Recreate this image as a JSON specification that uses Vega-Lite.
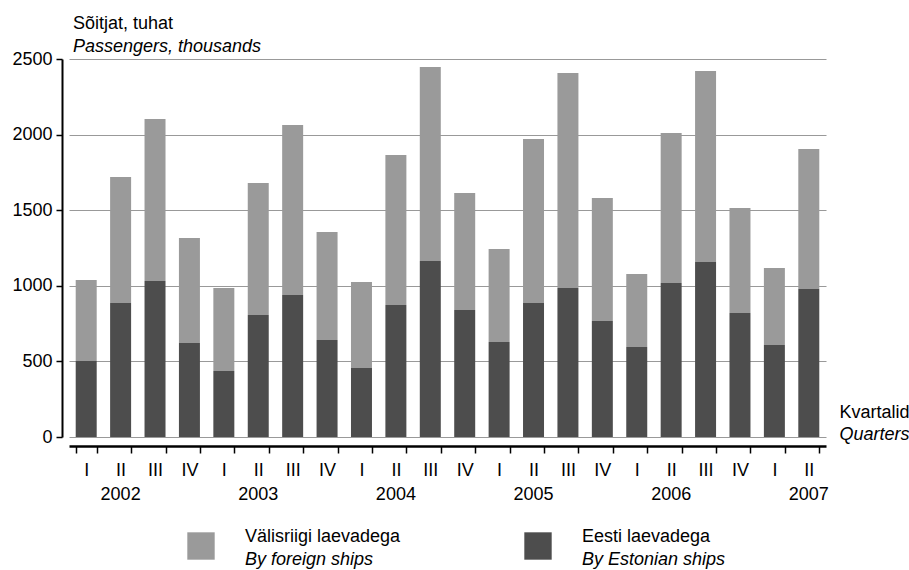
{
  "$schema": "https://vega.github.io/schema/vega-lite/v6.json",
  "padding": {"left": 11, "top": 15, "right": 0, "bottom": 0},
  "config": {
    "font": "Liberation Sans",
    "view": {"stroke": null},
    "axis": {"labelFont": "Liberation Sans", "labelFontSize": 18, "labelColor": "black", "titleFont": "Liberation Sans", "titleFontSize": 18, "titleColor": "black", "titleFontWeight": "normal"}
  },
  "vconcat": [
    {
      "width": 757,
      "height": 378,
      "title": {"text": "Sõitjat, tuhat", "subtitle": "Passengers, thousands", "anchor": "start", "frame": "group", "dx": 4, "fontSize": 18, "fontWeight": "normal", "color": "black", "font": "Liberation Sans", "subtitleFont": "Liberation Sans", "subtitleFontSize": 18, "subtitleFontStyle": "italic", "subtitleColor": "black", "subtitlePadding": 5, "offset": -6},
      "data": {"values": [
        {"period": "2002 I", "estonian": 503, "foreign": 535},
        {"period": "2002 II", "estonian": 886, "foreign": 834},
        {"period": "2002 III", "estonian": 1032, "foreign": 1071},
        {"period": "2002 IV", "estonian": 622, "foreign": 694},
        {"period": "2003 I", "estonian": 436, "foreign": 549},
        {"period": "2003 II", "estonian": 807, "foreign": 873},
        {"period": "2003 III", "estonian": 939, "foreign": 1124},
        {"period": "2003 IV", "estonian": 642, "foreign": 714},
        {"period": "2004 I", "estonian": 456, "foreign": 569},
        {"period": "2004 II", "estonian": 873, "foreign": 992},
        {"period": "2004 III", "estonian": 1164, "foreign": 1283},
        {"period": "2004 IV", "estonian": 840, "foreign": 774},
        {"period": "2005 I", "estonian": 628, "foreign": 615},
        {"period": "2005 II", "estonian": 886, "foreign": 1085},
        {"period": "2005 III", "estonian": 985, "foreign": 1422},
        {"period": "2005 IV", "estonian": 767, "foreign": 814},
        {"period": "2006 I", "estonian": 595, "foreign": 483},
        {"period": "2006 II", "estonian": 1018, "foreign": 993},
        {"period": "2006 III", "estonian": 1157, "foreign": 1264},
        {"period": "2006 IV", "estonian": 820, "foreign": 694},
        {"period": "2007 I", "estonian": 608, "foreign": 510},
        {"period": "2007 II", "estonian": 979, "foreign": 926}
      ]},
      "transform": [{"fold": ["estonian", "foreign"], "as": ["ship", "value"]}],
      "layer": [
        {
          "mark": {"type": "bar"},
          "encoding": {
            "x": {"field": "period", "type": "ordinal", "sort": null,
              "scale": {"paddingInner": 0.39, "paddingOuter": 0.195},
              "axis": {"orient": "bottom", "offset": 9, "domainColor": "black", "domainWidth": 2.5, "tickColor": "black", "tickWidth": 1.5, "tickSize": 7, "tickBand": "extent", "labelPadding": 8, "labelAngle": 0, "labelExpr": "split(datum.value, ' ')[1]", "title": "Kvartalid", "titleAngle": 0, "titleAlign": "left", "titleBaseline": "alphabetic", "titleX": 770, "titleY": -29}},
            "y": {"field": "value", "type": "quantitative", "stack": "zero",
              "scale": {"domain": [0, 2500], "nice": false},
              "axis": {"values": [0, 500, 1000, 1500, 2000, 2500], "format": "d", "title": null, "offset": 7, "domainColor": "black", "domainWidth": 2, "tickColor": "black", "tickWidth": 1.5, "tickSize": 6, "labelPadding": 4, "grid": true, "gridColor": "#999999", "gridWidth": 1}},
            "color": {"field": "ship", "type": "nominal", "scale": {"domain": ["estonian", "foreign"], "range": ["#4d4d4d", "#9a9a9a"]}, "legend": null},
            "order": {"field": "ship", "sort": "ascending"}
          }
        },
        {
          "mark": {"type": "rule", "opacity": 0},
          "encoding": {
            "x": {"field": "period", "type": "ordinal", "sort": null,
              "scale": {"paddingInner": 0.39, "paddingOuter": 0.195},
              "axis": {"orient": "bottom", "offset": 9, "domain": false, "ticks": false, "tickSize": 0, "bandPosition": 0, "labelPadding": 39, "labelAngle": 0, "labelExpr": "split(datum.value, ' ')[1] == 'II' ? split(datum.value, ' ')[0] : ''", "title": "Quarters", "titleFontStyle": "italic", "titleAngle": 0, "titleAlign": "left", "titleBaseline": "alphabetic", "titleX": 770, "titleY": -7}}
          }
        }
      ],
      "resolve": {"axis": {"x": "independent"}}
    },
    {
      "width": 757,
      "height": 28,
      "data": {"values": [
        {"ship": "foreign", "et": "Välisriigi laevadega", "en": "By foreign ships"},
        {"ship": "estonian", "et": "Eesti laevadega", "en": "By Estonian ships"}
      ]},
      "encoding": {
        "x": {"field": "ship", "type": "nominal", "sort": null, "scale": {"type": "point", "domain": ["foreign", "estonian"], "range": [132, 469], "padding": 0}, "axis": null}
      },
      "layer": [
        {"mark": {"type": "point", "shape": "square", "filled": true, "size": 750, "opacity": 1},
         "encoding": {"color": {"field": "ship", "type": "nominal", "scale": {"domain": ["estonian", "foreign"], "range": ["#4d4d4d", "#9a9a9a"]}, "legend": null}}},
        {"mark": {"type": "text", "align": "left", "baseline": "alphabetic", "dx": 44, "dy": -4, "fontSize": 18, "color": "black", "font": "Liberation Sans"},
         "encoding": {"text": {"field": "et"}}},
        {"mark": {"type": "text", "align": "left", "baseline": "alphabetic", "dx": 44, "dy": 19, "fontSize": 18, "fontStyle": "italic", "color": "black", "font": "Liberation Sans"},
         "encoding": {"text": {"field": "en"}}}
      ]
    }
  ],
  "spacing": 25
}
